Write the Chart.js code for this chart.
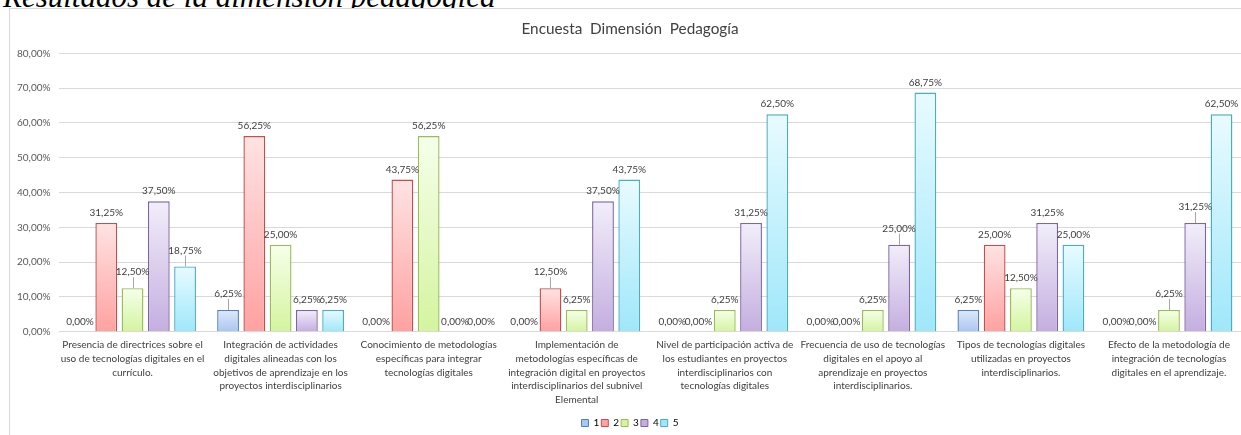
<!DOCTYPE html>
<html>
<head>
<meta charset="utf-8">
<script src="https://cdn.jsdelivr.net/npm/chart.js@4"></script>
<style>
  html, body { margin: 0; padding: 0; width: 1241px; height: 435px; overflow: hidden; background: #fff; }
  .heading { position: absolute; left: 3px; top: -19px; font: italic 31px "Liberation Serif", serif; line-height: 31px; color: #000; white-space: nowrap; z-index: 0; }
  .frame { position: absolute; left: 9px; top: 8px; width: 1260px; height: 460px; border-left: 1px solid #d9d9d9; border-top: 1px solid #d9d9d9; background: #fff; z-index: 1; }
  .C_chart { position: absolute; left: 0; top: 0; width: 1252px; height: 438px; z-index: 2; }
</style>
</head>
<body>
<div class="heading">Resultados de la dimensión pedagógica</div>
<div class="frame"></div>
<div class="C_chart"><canvas id="myChart"></canvas></div>
<script>
// categorias (eje x), una linea por elemento
const categories = [
    ['Presencia de directrices sobre el', 'uso de tecnologías digitales en el', 'currículo.'],
    ['Integración de actividades', 'digitales alineadas con los', 'objetivos de aprendizaje en los', 'proyectos interdisciplinarios'],
    ['Conocimiento de metodologías', 'específicas para integrar', 'tecnologías digitales'],
    ['Implementación de', 'metodologías específicas de', 'integración digital en proyectos', 'interdisciplinarios del subnivel', 'Elemental'],
    ['Nivel de participación activa de', 'los estudiantes en proyectos', 'interdisciplinarios con', 'tecnologías digitales'],
    ['Frecuencia de uso de tecnologías', 'digitales en el apoyo al', 'aprendizaje en proyectos', 'interdisciplinarios.'],
    ['Tipos de tecnologías digitales', 'utilizadas en proyectos', 'interdisciplinarios.'],
    ['Efecto de la metodología de', 'integración de tecnologías', 'digitales en el aprendizaje.']
]

const seriesNames = ['1', '2', '3', '4', '5']
const values1 = [0, 6.25, 0, 0, 0, 0, 6.25, 0]
const values2 = [31.25, 56.25, 43.75, 12.5, 0, 0, 25, 0]
const values3 = [12.5, 25, 56.25, 6.25, 6.25, 6.25, 12.5, 6.25]
const values4 = [37.5, 6.25, 0, 37.5, 31.25, 25, 31.25, 31.25]
const values5 = [18.75, 6.25, 0, 43.75, 62.5, 68.75, 25, 62.5]
const yTicks = [0, 10, 20, 30, 40, 50, 60, 70, 80]

// etiquetas con linea guia ("serie:categoria")
const leaderLabels = ['2:0', '4:0', '0:1', '1:3', '3:5', '2:7', '3:7']

const borders = ['#4f81bd', '#c0504d', '#9bbb59', '#8064a2', '#4bacc6']
const topFill = ['#dfe9fb', '#ffe3e3', '#f6ffea', '#f2eefa', '#e8fbff']
const bottomFill = ['#a8c6f2', '#ffa1a1', '#d4f4a0', '#c4aee0', '#9fe7fa']

const pct = v => v.toFixed(2).replace('.', ',') + '%'
const FONT = 'Lato'

const gradFill = (i) => (c) => {
    const chart = c.chart
    if (!chart.chartArea || c.raw === undefined) return bottomFill[i]
    const y = chart.scales.y
    const y0 = y.getPixelForValue(0)
    const y1 = y.getPixelForValue(c.raw)
    if (y0 - y1 < 1) return bottomFill[i]
    const g = chart.ctx.createLinearGradient(0, y1, 0, y0)
    g.addColorStop(0, topFill[i])
    g.addColorStop(1, bottomFill[i])
    return g
}

const allValues = [values1, values2, values3, values4, values5]
const datasets = allValues.map((vals, i) => ({
    label: seriesNames[i],
    data: vals,
    backgroundColor: gradFill(i),
    borderColor: borders[i],
    borderWidth: c => (c.raw === 0 ? 0 : 1.4),
    borderSkipped: 'start',
    barPercentage: 0.83,
    categoryPercentage: 0.887
}))

const valueLabels = {
    id: 'valueLabels',
    afterDatasetsDraw(chart) {
        const ctx = chart.ctx
        ctx.save()
        ctx.font = '10px ' + FONT
        ctx.fillStyle = '#404040'
        ctx.textAlign = 'center'
        ctx.textBaseline = 'middle'
        chart.data.datasets.forEach((ds, di) => {
            chart.getDatasetMeta(di).data.forEach((bar, idx) => {
                const lead = leaderLabels.includes(di + ':' + idx)
                const ly = bar.y - (lead ? 16 : 10)
                ctx.fillText(pct(ds.data[idx]), bar.x, ly)
                if (lead) {
                    ctx.strokeStyle = '#a6a6a6'
                    ctx.lineWidth = 1
                    ctx.beginPath()
                    ctx.moveTo(Math.round(bar.x) + 0.5, ly + 5)
                    ctx.lineTo(Math.round(bar.x) + 0.5, bar.y)
                    ctx.stroke()
                }
            })
        })
        ctx.restore()
    }
}

new Chart(document.getElementById('myChart'), {
    type: 'bar',
    data: { labels: categories, datasets: datasets },
    plugins: [valueLabels],
    options: {
        responsive: true,
        maintainAspectRatio: false,
        animation: false,
        layout: { padding: { left: 17, right: 9, top: 0, bottom: 0 } },
        plugins: {
            title: {
                display: true,
                text: 'Encuesta  Dimensión  Pedagogía',
                color: '#404040',
                font: { family: FONT, size: 15.3, weight: 'normal' },
                padding: { top: 20, bottom: 15 }
            },
            legend: {
                position: 'bottom',
                labels: {
                    boxWidth: 7,
                    boxHeight: 7,
                    padding: 2,
                    color: '#595959',
                    font: { family: FONT, size: 10 },
                    generateLabels: chart => chart.data.datasets.map((ds, i) => ({
                        text: ds.label,
                        fillStyle: bottomFill[i],
                        strokeStyle: borders[i],
                        lineWidth: 1,
                        datasetIndex: i,
                        hidden: false
                    }))
                }
            },
            tooltip: { enabled: false }
        },
        scales: {
            x: {
                afterFit: s => { s.height = 84.3 },
                grid: { display: false, drawTicks: false },
                border: { display: false },
                ticks: {
                    color: '#404040',
                    font: { family: FONT, size: 10, lineHeight: 1.37 },
                    maxRotation: 0,
                    autoSkip: false,
                    padding: 6.5
                }
            },
            y: {
                min: 0,
                max: 80,
                afterBuildTicks: s => { s.ticks = yTicks.map(v => ({ value: v })) },
                afterFit: s => { s.width = 41.5 },
                grid: { color: '#d9d9d9', drawTicks: false },
                border: { display: false },
                ticks: {
                    color: '#595959',
                    font: { family: FONT, size: 10 },
                    padding: 8,
                    callback: v => pct(v)
                }
            }
        }
    }
})
</script>
</body>
</html>
